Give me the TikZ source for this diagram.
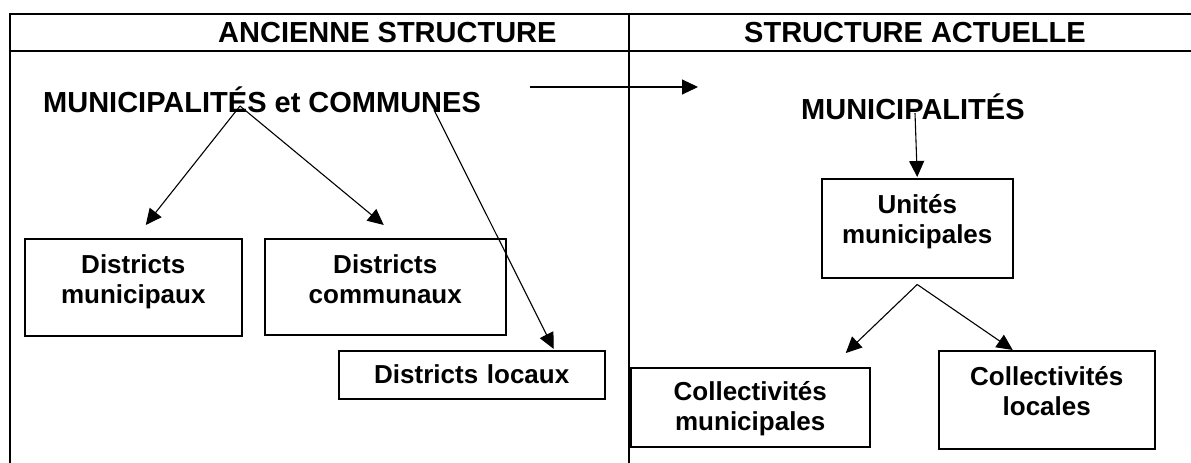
\documentclass[tikz,border=0pt]{standalone}
\usepackage{fontspec}
\setmainfont{Liberation Sans}
\usetikzlibrary{arrows.meta, positioning}
\newcommand{\grand}{\fontsize{29}{34}\selectfont\bfseries}
\newcommand{\moyen}{\fontsize{26}{30}\selectfont\bfseries}

\begin{document}
\begin{tikzpicture}[x=1pt, y=-1pt,
    titre/.style={font=\grand, inner sep=0pt, anchor=base west},
    boite/.style={draw, line width=1.5pt, font=\moyen, align=center, inner xsep=0pt, inner ysep=17pt, text height=18pt, anchor=north west},
    fleche/.style={line width=1.1pt, -{Triangle[length=16pt, width=15pt]}}]
    \useasboundingbox (0,0) rectangle (1191,463);
    % Cadre du tableau
        \draw[line width=2.4pt] (1191,14) -- (10,14) -- (10,463);
        \draw[line width=2.4pt] (10,51) -- (1191,51);
        \draw[line width=2.4pt] (629,14) -- (629,463);
        % Titres des colonnes
        \node[titre] (tanc) at (218,42) {ANCIENNE STRUCTURE};
        \node[titre] (tact) at (744,42) {STRUCTURE ACTUELLE};
        \node[titre] (anc) at (43,112) {MUNICIPALITÉS et COMMUNES};
        \node[titre] (act) at (801,119) {MUNICIPALITÉS};
        % Ancienne structure
        \node[boite, text width=217pt, text depth=45pt] (dmun) at (24,238) {Districts\\municipaux};
        \node[boite, text width=241pt, text depth=44pt] (dcom) at (264,238) {Districts\\communaux};
        \node[boite, text width=266pt, inner ysep=15pt, text depth=0pt] (dloc) at (338,350) {Districts locaux};
        % Structure actuelle
        \node[boite, text width=191pt, text depth=47pt] (unit) at (821,178) {Unités\\municipales};
        \node[boite, text width=239pt, inner ysep=15pt, text depth=31pt] (cmun) at (630,367) {Collectivités\\municipales};
        \node[boite, text width=216pt, text depth=46pt] (cloc) at (938,350) {Collectivités\\locales};
        % Flèches
        \draw[fleche] ([xshift=197pt, yshift=6pt]anc.base west) -- ([xshift=12.5pt, yshift=13pt]dmun.north);
        \draw[fleche] ([xshift=197pt, yshift=6pt]anc.base west) -- ([xshift=-1.5pt, yshift=13pt]dcom.north);
        \draw[fleche] ([xshift=391pt, yshift=2pt]anc.base west) -- ([xshift=82pt, yshift=1pt]dloc.north);
        \draw[fleche] ([xshift=487pt, yshift=25pt]anc.base west) -- ([xshift=-103pt, yshift=32pt]act.base west);
        \draw[fleche] ([xshift=114pt, yshift=6pt]act.base west) -- ([yshift=1pt]unit.north);
        \draw[fleche] ([yshift=-6pt]unit.south) -- ([xshift=95.5pt, yshift=14pt]cmun.north);
        \draw[fleche] ([yshift=-6pt]unit.south) -- ([xshift=-34pt]cloc.north);
    \end{tikzpicture}
\end{document}
